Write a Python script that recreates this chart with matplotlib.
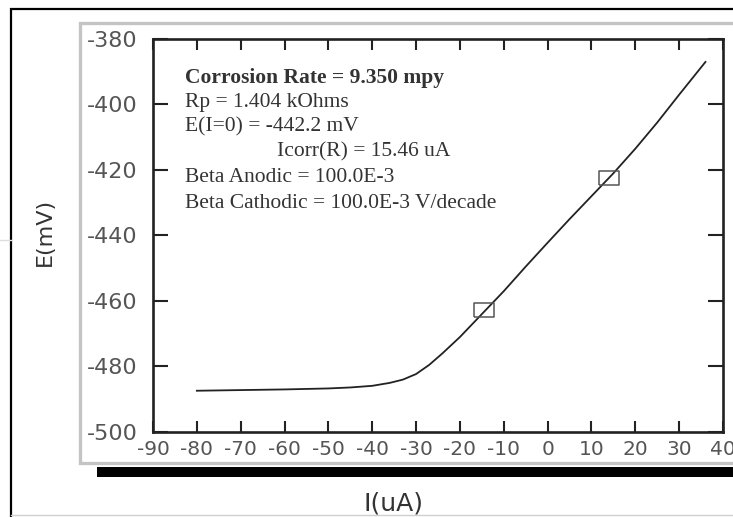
import matplotlib
matplotlib.use("Agg")
import matplotlib.pyplot as plt
from matplotlib.patches import Rectangle

plt.rcParams["axes.unicode_minus"] = False

# polarization curve
current_ua = [-80, -70, -60, -50, -45, -40, -36, -33, -30, -27, -24, -20,
              -15, -10, -5, 0, 5, 10, 15, 20, 25, 30, 36]
potential_mv = [-487.4, -487.2, -487.0, -486.7, -486.4, -485.9, -485.0, -484.0,
                -482.3, -479.5, -476.0, -471.0, -464.0, -457.0, -449.5, -442.2,
                -435.0, -428.0, -421.0, -413.5, -405.5, -397.0, -387.0]

# fit range markers
marker_i = [-14.5, 14.0]
marker_e = [-462.7, -422.4]

x_ticks = [-90, -80, -70, -60, -50, -40, -30, -20, -10, 0, 10, 20, 30, 40]
y_ticks = [-500, -480, -460, -440, -420, -400, -380]

info_lines = [
    ("Corrosion Rate = 9.350 mpy", "bold", 185),
    ("Rp = 1.404 kOhms", "normal", 185),
    ("E(I=0) = -442.2 mV", "normal", 185),
    ("Icorr(R) = 15.46 uA", "normal", 277),
    ("Beta Anodic = 100.0E-3", "normal", 185),
    ("Beta Cathodic = 100.0E-3 V/decade", "normal", 185),
]
info_y = [78, 103, 127, 152, 178, 203]

W, H = 733, 517
fig = plt.figure(figsize=(W / 100, H / 100), dpi=100)


def fx(x):
    return x / W


def fy(y):
    return 1 - y / H


def box(x0, y0, x1, y1, **kw):
    r = Rectangle((fx(x0), fy(y1)), fx(x1) - fx(x0), fy(y0) - fy(y1),
                  transform=fig.transFigure, **kw)
    fig.patches.append(r)


# outer frame, grey panel and its black shadow
box(11, 9, 760, 540, fill=False, edgecolor="black", linewidth=1.6, zorder=0)
box(97, 467, 760, 477, facecolor="black", edgecolor="none", zorder=1)
box(80, 23, 760, 463, facecolor="white", edgecolor="#c4c4c4", linewidth=2.4, zorder=2)
fig.add_artist(plt.Line2D([fx(0), fx(11)], [fy(240), fy(240)], color="#dddddd",
                          linewidth=1, transform=fig.transFigure))
fig.add_artist(plt.Line2D([fx(11), fx(733)], [fy(515), fy(515)], color="#d0d0d0",
                          linewidth=1, transform=fig.transFigure))

ax = fig.add_axes([fx(153), fy(432), fx(723) - fx(153), fy(39) - fy(432)])
ax.set_zorder(3)

ax.plot(current_ua, potential_mv, color="#222222", linewidth=1.3)
box_marker = [(-1.45, -1), (1.45, -1), (1.45, 1), (-1.45, 1), (-1.45, -1)]
ax.plot(marker_i, marker_e, linestyle="none", marker=box_marker, markersize=14.5,
        markerfacecolor="none", markeredgecolor="#555555", markeredgewidth=1.1)

ax.set_xlim(-90, 40)
ax.set_ylim(-500, -380)
ax.set_xticks(x_ticks)
ax.set_yticks(y_ticks)

for s in ax.spines.values():
    s.set_linewidth(1.9)
    s.set_color("#222222")

ax.tick_params(axis="x", direction="in", top=True, length=8, width=1.5,
               pad=6, labelsize=14.5, labelcolor="#555555", color="#222222")
ax.tick_params(axis="y", direction="in", right=True, length=11, width=1.5,
               pad=11, labelsize=16, labelcolor="#555555", color="#222222")
for lab in ax.get_xticklabels() + ax.get_yticklabels():
    lab.set_family("DejaVu Sans")

for (txt, weight, x), y in zip(info_lines, info_y):
    fig.text(fx(x), fy(y), txt, family="Liberation Serif", fontsize=15.5,
             fontweight=weight, color="#333333", va="center", ha="left", zorder=5)

fig.text(fx(45), fy(232), "E(mV)", rotation=90, family="DejaVu Sans",
         fontsize=16, color="#333333", ha="center", va="center")
fig.text(fx(393), fy(503), "I(uA)", family="DejaVu Sans", fontsize=18,
         color="#333333", ha="center", va="center")

fig.savefig("out.png", dpi=100)
